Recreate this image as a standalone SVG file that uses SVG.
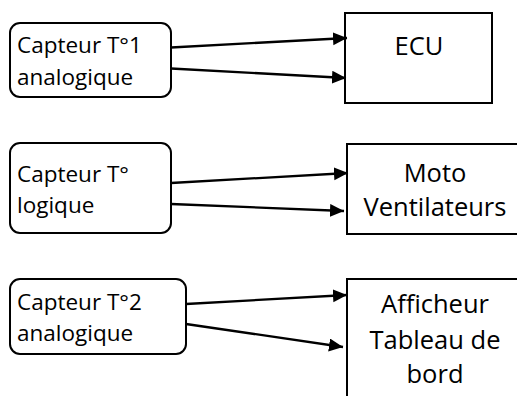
<svg xmlns="http://www.w3.org/2000/svg" width="517" height="396" viewBox="0 0 517 396">
<style>
.box{fill:#fff;stroke:#000;stroke-width:2}
.lt{font-family:"Open Sans","Liberation Sans",sans-serif;font-size:22.5px;fill:#000}
.rt{font-family:"Open Sans","Liberation Sans",sans-serif;font-size:25.5px;fill:#000;text-anchor:middle}
.con{stroke:#000;stroke-width:2.3;fill:none;marker-end:url(#ah)}
</style>
<defs>
<marker id="ah" markerUnits="userSpaceOnUse" markerWidth="15" markerHeight="14" refX="14" refY="6.5" orient="auto">
<path d="M0,0 L14,6.5 L0,13 z" fill="#000"/>
</marker>
</defs>
<rect width="517" height="396" fill="#fff"/>
<g id="capteur1">
<rect class="box" x="10" y="23" width="161" height="74" rx="10"/>
<text class="lt" x="17" y="53">Capteur T°1</text>
<text class="lt" x="17" y="85">analogique</text>
</g>
<g id="ecu">
<rect class="box" x="345" y="13" width="147" height="90"/>
<text class="rt" x="419" y="55">ECU</text>
</g>
<g id="capteur-logique">
<rect class="box" x="10" y="143" width="161" height="90" rx="10"/>
<text class="lt" x="17" y="182">Capteur T°</text>
<text class="lt" x="17" y="213">logique</text>
</g>
<g id="moto">
<rect class="box" x="347" y="144" width="200" height="90"/>
<text class="rt" x="435" y="182">Moto</text>
<text class="rt" x="435" y="216">Ventilateurs</text>
</g>
<g id="capteur2">
<rect class="box" x="10" y="279" width="176" height="75" rx="10"/>
<text class="lt" x="17" y="310">Capteur T°2</text>
<text class="lt" x="17" y="341">analogique</text>
</g>
<g id="afficheur">
<rect class="box" x="347" y="279" width="200" height="200"/>
<text class="rt" x="435" y="313">Afficheur</text>
<text class="rt" x="435" y="349">Tableau de</text>
<text class="rt" x="435" y="383">bord</text>
</g>
<g id="connectors">
<line class="con" x1="171" y1="47.5" x2="347" y2="38"/>
<line class="con" x1="171" y1="68.5" x2="346" y2="78"/>
<line class="con" x1="171" y1="183" x2="348" y2="173"/>
<line class="con" x1="171" y1="204" x2="344" y2="211"/>
<line class="con" x1="186" y1="304" x2="347" y2="295"/>
<line class="con" x1="186" y1="324" x2="343" y2="347"/>
</g>
</svg>
